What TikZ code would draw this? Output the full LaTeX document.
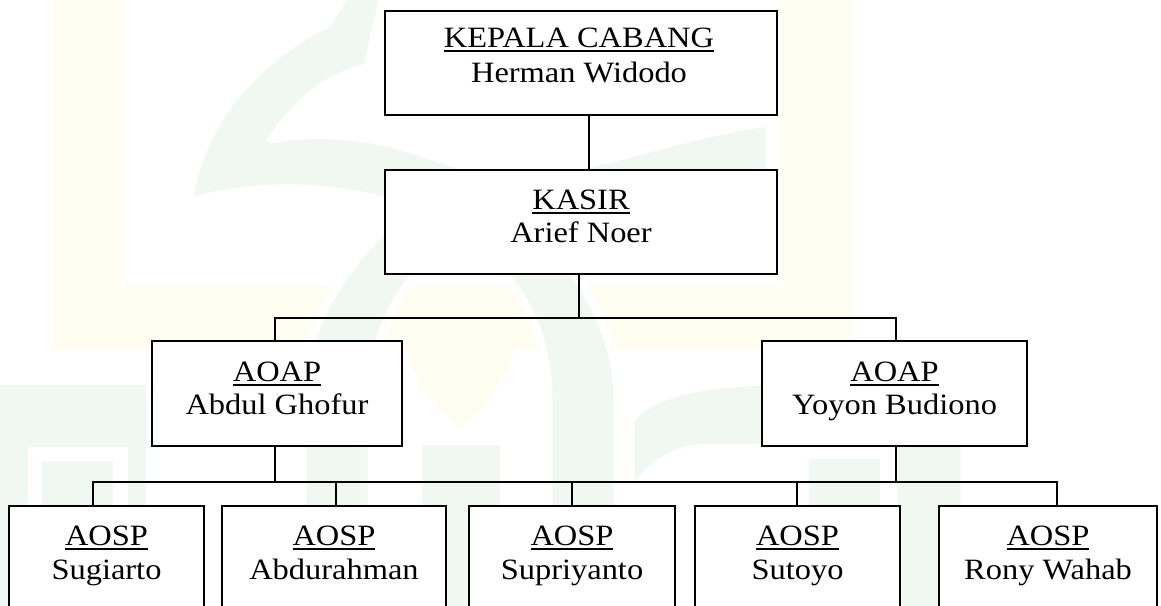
\documentclass[tikz,border=0pt]{standalone}
\usepackage{fontspec}
\setmainfont{Liberation Serif}[FakeStretch=1.1]
\usetikzlibrary{calc}
\definecolor{wmG}{RGB}{241,248,242}
\definecolor{wmY}{RGB}{255,253,240}
\newcommand\ulx[1]{\setbox0\hbox{#1}\rlap{\rule[-5pt]{\wd0}{1.8pt}}\box0}
\begin{document}
\begin{tikzpicture}[x=1pt,y=-1pt,
  box/.style={draw, line width=1.8pt, fill=white, rectangle, inner sep=0pt, minimum height=104pt},
  bbox/.style={box, minimum height=154pt},
  wire/.style={line width=1.8pt},
  role/.style={anchor=base, inner sep=0pt, font=\fontsize{29.5}{34}\selectfont},
  wmg/.style={fill=wmG, draw=white, line width=9pt, line join=round},
  wmy/.style={fill=wmY}]
\useasboundingbox (0,0) rectangle (1161,605);
\begin{scope}
\clip (0,0) rectangle (1161,605);
\fill[white] (0,0) rectangle (1161,605);
% ---- watermark ----
\fill[wmy] (53,-5) rectangle (122,350);
\fill[wmy] (53,286) rectangle (852,350);
\fill[wmy] (782,-5) rectangle (852,350);
% crescent band
\path[wmg] (345,-5) -- (327,23) .. controls (255,60) and (200,120) .. (188,203)
  .. controls (250,183) and (330,185) .. (390,203) -- (460,240) -- (770,240)
  -- (770,122) .. controls (700,130) and (620,160) .. (560,168) -- (470,168)
  .. controls (430,155) and (400,145) .. (390,143)
  .. controls (350,133) and (300,132) .. (272,139)
  .. controls (300,100) and (330,75) .. (368,68) -- (384,-5) -- cycle;
% pointed dome
\path[wmg] (302,615) -- (302,400) .. controls (302,300) and (380,220) .. (460,170)
  .. controls (540,220) and (618,300) .. (618,400) -- (618,615) -- (548,615)
  -- (548,400) .. controls (548,320) and (510,270) .. (460,235)
  .. controls (410,270) and (372,320) .. (372,400) -- (372,615) -- cycle;
% chevron
\fill[wmy] (402,303) -- (460,330) -- (518,300) .. controls (525,350) and (500,395) .. (460,427)
  .. controls (420,395) and (395,350) .. (402,303) -- cycle;
% i stem
\fill[wmG] (422,445) rectangle (500,615);
% left block
\fill[wmG] (0,385) rectangle (146,615);
\fill[white] (28,447) rectangle (128,615);
\fill[wmG] (42,461) rectangle (113,615);
% n shape
\path[wmg] (630,497) -- (630,420) .. controls (650,392) and (700,383) .. (770,381)
  -- (925,381) .. controls (950,381) and (965,395) .. (965,420) -- (965,615)
  -- (893,615) -- (893,448) -- (700,448) .. controls (670,452) and (645,470) .. (630,497) -- cycle;
\fill[wmG] (809,459) rectangle (880,615);
% ---- chart ----
\node[box, minimum width=392pt] (top) at (581,63) {};
\node[box, minimum width=392pt] (kasir) at (581,222) {};
\node[box, minimum width=250pt, minimum height=105pt] (aoapL) at (277,393.5) {};
\node[box, minimum width=265pt, minimum height=105pt] (aoapR) at (894.5,393.5) {};
\node[bbox, minimum width=195pt] (s1) at (106.5,583) {};
\node[bbox, minimum width=224pt] (s2) at (334,583) {};
\node[bbox, minimum width=206pt] (s3) at (572,583) {};
\node[bbox, minimum width=205pt] (s4) at (797.5,583) {};
\node[bbox, minimum width=218pt] (s5) at (1048,583) {};
% texts
\node[role] (t1a) at ($(top.north)+(-2,37)$) {\ulx{KEPALA CABANG}};
\node[role] (t1b) at ($(top.north)+(-2,72)$) {Herman Widodo};
\node[role] (t2a) at ($(kasir.north)+(0,40)$) {\ulx{KASIR}};
\node[role] (t2b) at ($(kasir.north)+(0,73)$) {Arief Noer};
\node[role] (t3a) at ($(aoapL.north)+(0,41)$) {\ulx{AOAP}};
\node[role] (t3b) at ($(aoapL.north)+(0,74)$) {Abdul Ghofur};
\node[role] (t4a) at ($(aoapR.north)+(0,41)$) {\ulx{AOAP}};
\node[role] (t4b) at ($(aoapR.north)+(0,74)$) {Yoyon Budiono};
\foreach \n/\nm in {s1/Sugiarto, s2/Abdurahman, s3/Supriyanto, s4/Sutoyo, s5/Rony Wahab}{
  \node[role] (\n a) at ($(\n.north)+(0,40)$) {\ulx{AOSP}};
  \node[role] (\n b) at ($(\n.north)+(0,74)$) {\nm};
}
% connectors
\draw[wire] ([xshift=8pt]top.south) -- ([xshift=8pt]kasir.north);
\coordinate (j1) at (579,318);
\coordinate (j2) at (579,482);
\draw[wire] ([xshift=-2pt]kasir.south) -- (j1);
\draw[wire] ([xshift=-2pt]aoapL.north) -- ([xshift=-2pt]aoapL.north |- j1) -- ([xshift=1.5pt]aoapR.north |- j1) -- ([xshift=1.5pt]aoapR.north);
\draw[wire] ([xshift=-2pt]aoapL.south) -- ([xshift=-2pt]aoapL.south |- j2);
\draw[wire] ([xshift=1.5pt]aoapR.south) -- ([xshift=1.5pt]aoapR.south |- j2);
\draw[wire] ([xshift=-13.5pt]s1.north) -- ([xshift=-13.5pt]s1.north |- j2) -- ([xshift=9pt]s5.north |- j2) -- ([xshift=9pt]s5.north);
\draw[wire] ([xshift=2pt]s2.north) -- ([xshift=2pt]s2.north |- j2);
\draw[wire] (s3.north) -- (s3.north |- j2);
\draw[wire] ([xshift=-0.5pt]s4.north) -- ([xshift=-0.5pt]s4.north |- j2);
\end{scope}
\end{tikzpicture}
\end{document}
